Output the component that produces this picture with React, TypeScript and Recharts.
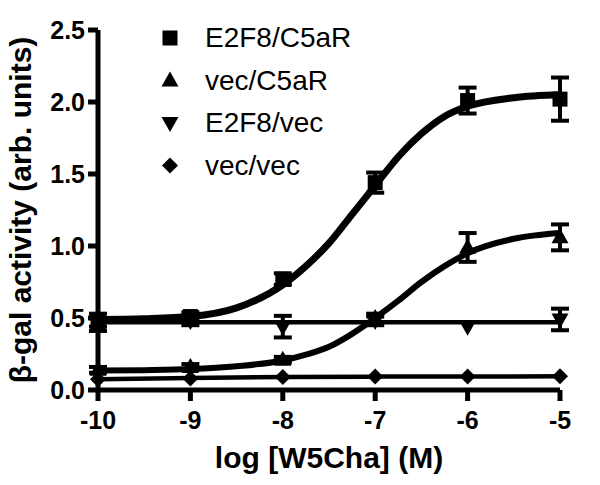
import React from 'react';
import {
  ComposedChart,
  Line,
  Scatter,
  ErrorBar,
  XAxis,
  YAxis,
  Legend,
  Label,
} from 'recharts';

// doses (log M) where points were measured
const doses = [-10, -9, -8, -7, -6, -5];

// E2F8/C5aR (squares)
const e2f8C5aR = [0.47, 0.51, 0.77, 1.44, 2.01, 2.02];
const e2f8C5aRErr = [0.06, 0.03, 0.04, 0.07, 0.09, 0.15];

// vec/C5aR (triangles up)
const vecC5aR = [0.14, 0.16, 0.21, 0.5, 0.99, 1.06];
const vecC5aRErr = [0.02, 0.02, 0.02, 0.03, 0.1, 0.09];

// E2F8/vec (triangles down)
const e2f8Vec = [0.47, 0.48, 0.44, 0.48, 0.44, 0.49];
const e2f8VecErr = [0.03, 0.03, 0.075, 0.03, 0.0, 0.075];

// vec/vec (diamonds)
const vecVec = [0.075, 0.08, 0.09, 0.093, 0.094, 0.095];

// fitted curves
const fitX = [-10, -9.5, -9, -8.5, -8, -7.75, -7.5, -7.25, -7, -6.75, -6.5, -6.25, -6, -5.5, -5];
const fitE2f8C5aR = [0.49, 0.495, 0.51, 0.57, 0.73, 0.86, 1.02, 1.22, 1.42, 1.62, 1.78, 1.9, 1.97, 2.03, 2.05];
const fitVecC5aR = [0.135, 0.138, 0.145, 0.165, 0.205, 0.245, 0.3, 0.39, 0.5, 0.62, 0.75, 0.86, 0.95, 1.05, 1.09];
const fitFlatX = [-10, -5];
const fitE2f8Vec = [0.47, 0.47];
const fitVecVec = [0.075, 0.083, 0.09, 0.093, 0.094, 0.095];

const yTicks = [0, 0.5, 1, 1.5, 2, 2.5];

const FONT = "'Liberation Sans', Arial, Helvetica, sans-serif";

const toPoints = (ys: number[], errs?: number[]) =>
  doses.map((x, i) => ({ x, y: ys[i], err: errs ? errs[i] : 0 }));
const toCurve = (xs: number[], ys: number[]) => xs.map((x, i) => ({ x, y: ys[i] }));

const Square = (p: any) => (
  <rect x={p.cx - 7.5} y={p.cy - 7.5} width={15} height={15} fill="#000" />
);
const TriUp = (p: any) => (
  <polygon
    points={`${p.cx},${p.cy - 9} ${p.cx + 8.5},${p.cy + 6} ${p.cx - 8.5},${p.cy + 6}`}
    fill="#000"
  />
);
const TriDown = (p: any) => (
  <polygon
    points={`${p.cx},${p.cy + 9} ${p.cx + 8.5},${p.cy - 6} ${p.cx - 8.5},${p.cy - 6}`}
    fill="#000"
  />
);
const Diamond = (p: any) => (
  <polygon
    points={`${p.cx},${p.cy - 8} ${p.cx + 8},${p.cy} ${p.cx},${p.cy + 8} ${p.cx - 8},${p.cy}`}
    fill="#000"
  />
);

const legendItems = [
  { name: 'E2F8/C5aR', shape: Square },
  { name: 'vec/C5aR', shape: TriUp },
  { name: 'E2F8/vec', shape: TriDown },
  { name: 'vec/vec', shape: Diamond },
];

const renderLegend = () => (
  <svg width={240} height={180}>
    {legendItems.map((item, i) => {
      const Shape = item.shape;
      const cy = 23 + i * 42.5;
      return (
        <g key={item.name}>
          <Shape cx={20} cy={cy} />
          <text x={55} y={cy + 9} fontFamily={FONT} fontSize={28} fill="#000">
            {item.name}
          </text>
        </g>
      );
    })}
  </svg>
);

const tickStyle = { fill: '#000', fontSize: 25, fontWeight: 700, fontFamily: FONT };
const axisStroke = { stroke: '#000', strokeWidth: 5 };

export default function App() {
  return (
    <div style={{ position: 'absolute', left: 0, top: 0, background: '#fff' }}>
      <ComposedChart width={600} height={485} margin={{ top: 30, right: 40, left: 0, bottom: 0 }}>
        <XAxis
          type="number"
          dataKey="x"
          domain={[-10, -5]}
          ticks={doses}
          height={95}
          axisLine={axisStroke}
          tickLine={axisStroke}
          tickSize={11}
          tickMargin={10}
          tick={tickStyle}
          label={
            <Label
              content={(props: any) => {
                const vb = props.viewBox;
                return (
                  <text
                    x={vb.x + vb.width / 2}
                    y={vb.y + 78}
                    textAnchor="middle"
                    fontFamily={FONT}
                    fontWeight={700}
                    fontSize={30}
                    fill="#000"
                  >
                    log [W5Cha] (M)
                  </text>
                );
              }}
            />
          }
        />
        <YAxis
          type="number"
          dataKey="y"
          domain={[0, 2.5]}
          ticks={yTicks}
          width={98}
          axisLine={axisStroke}
          tickLine={axisStroke}
          tickSize={10}
          tickMargin={3}
          tick={tickStyle}
          tickFormatter={(v: number) => v.toFixed(1)}
          label={
            <Label
              content={(props: any) => {
                const vb = props.viewBox;
                const cy = vb.y + vb.height / 2;
                return (
                  <text
                    x={31}
                    y={cy}
                    transform={`rotate(-90, 31, ${cy})`}
                    textAnchor="middle"
                    fontFamily={FONT}
                    fontWeight={700}
                    fontSize={30}
                    fill="#000"
                  >
                    β-gal activity (arb. units)
                  </text>
                );
              }}
            />
          }
        />
        <Legend
          layout="vertical"
          align="center"
          verticalAlign="middle"
          content={renderLegend}
          wrapperStyle={{ left: 150, top: 15, width: 240, height: 180 }}
        />

        <Line data={toCurve(fitX, fitE2f8C5aR)} dataKey="y" type="monotone" stroke="#000" strokeWidth={7} dot={false} isAnimationActive={false} legendType="none" />
        <Line data={toCurve(fitX, fitVecC5aR)} dataKey="y" type="monotone" stroke="#000" strokeWidth={6} dot={false} isAnimationActive={false} legendType="none" />
        <Line data={toCurve(fitFlatX, fitE2f8Vec)} dataKey="y" type="linear" stroke="#000" strokeWidth={4.5} dot={false} isAnimationActive={false} legendType="none" />
        <Line data={toCurve(doses, fitVecVec)} dataKey="y" type="monotone" stroke="#000" strokeWidth={4.5} dot={false} isAnimationActive={false} legendType="none" />

        <Scatter name="E2F8/C5aR" data={toPoints(e2f8C5aR, e2f8C5aRErr)} dataKey="y" shape={Square} isAnimationActive={false}>
          <ErrorBar dataKey="err" direction="y" width={9} stroke="#000" strokeWidth={4} />
        </Scatter>
        <Scatter name="vec/C5aR" data={toPoints(vecC5aR, vecC5aRErr)} dataKey="y" shape={TriUp} isAnimationActive={false}>
          <ErrorBar dataKey="err" direction="y" width={9} stroke="#000" strokeWidth={4} />
        </Scatter>
        <Scatter name="E2F8/vec" data={toPoints(e2f8Vec, e2f8VecErr)} dataKey="y" shape={TriDown} isAnimationActive={false}>
          <ErrorBar dataKey="err" direction="y" width={9} stroke="#000" strokeWidth={4} />
        </Scatter>
        <Scatter name="vec/vec" data={toPoints(vecVec)} dataKey="y" shape={Diamond} isAnimationActive={false} />
      </ComposedChart>
    </div>
  );
}
